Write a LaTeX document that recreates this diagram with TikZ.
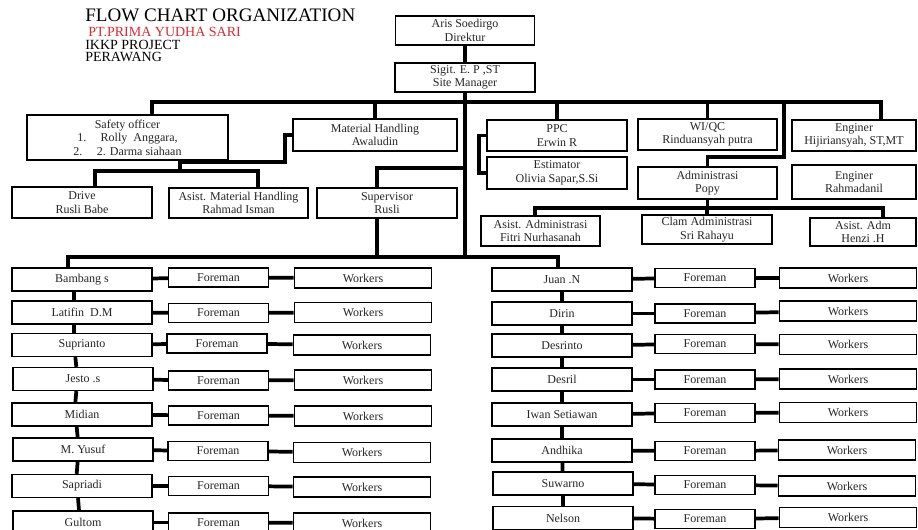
\documentclass[tikz,border=0pt]{standalone}
\usepackage{fontspec}
\setmainfont{Liberation Serif}
\definecolor{titlered}{RGB}{215,45,50}
\begin{document}
\begin{tikzpicture}[x=0.75pt,y=-0.75pt,
  box/.style={draw, line width=1pt, fill=white, inner sep=0pt, align=center, font=\fontsize{9}{10.2}\selectfont, text=black!85},
  who/.style={box, minimum width=105pt, minimum height=17.25pt},
  fore/.style={box, minimum width=75pt, minimum height=14.25pt},
  work/.style={box, minimum width=103pt, minimum height=15pt},
  link/.style={line width=2.8pt},
  heading/.style={anchor=base west, inner sep=0pt, font=\fontsize{10.5}{12}\selectfont}]
\useasboundingbox (0,0) rectangle (918,530);
\clip (0,0) rectangle (918,530);
\node[heading, font=\fontsize{14.3}{16}\selectfont] (ttl) at (85,22) {FLOW CHART ORGANIZATION};
\node[heading, text=titlered] (co) at (88,37) {PT.PRIMA YUDHA SARI};
\node[heading] (prj) at (85,50) {IKKP PROJECT};
\node[heading] (loc) at (85,62) {PERAWANG};
\node[box, minimum width=104pt, minimum height=21.75pt] (dir) at (465,30.5) {Aris Soedirgo\\Direktur};
\node[box, minimum width=105pt, minimum height=21.75pt] (sm) at (465,77.5) {Sigit. E. P ,ST\\Site Manager};
\node[box, minimum width=150.75pt, minimum height=33.75pt] (saf) at (127.5,137.5) {Safety officer\\1.\hspace{1.2em}Rolly\ \ Anggara,\\2.\hspace{1.2em}2. Darma siahaan};
\node[box, minimum width=123pt, minimum height=24pt] (mh) at (375,135) {Material Handling\\Awaludin};
\node[box, minimum width=105pt, minimum height=23.25pt] (drv) at (82,202.5) {Drive\\Rusli Babe};
\node[box, minimum width=104.25pt, minimum height=22.5pt] (amh) at (238.5,203) {Asist. Material Handling\\Rahmad Isman};
\node[box, minimum width=105pt, minimum height=22.5pt] (sup) at (387,203) {Supervisor\\Rusli};
\node[box, minimum width=105pt, minimum height=23.25pt] (ppc) at (557,135.5) {PPC\\Erwin R};
\node[box, minimum width=105pt, minimum height=24pt] (est) at (557,173) {Estimator\\Olivia Sapar,S.Si};
\node[box, minimum width=104.25pt, minimum height=23.25pt] (wqc) at (707.5,134.5) {WI/QC\\Rinduansyah putra};
\node[box, minimum width=93pt, minimum height=23.25pt] (en1) at (854,135.5) {Enginer\\Hijiriansyah, ST,MT};
\node[box, minimum width=93pt, minimum height=25.5pt] (en2) at (854,182) {Enginer\\Rahmadanil};
\node[box, minimum width=104.25pt, minimum height=24pt] (adm) at (707.5,183) {Administrasi\\Popy};
\node[box, minimum width=89.25pt, minimum height=22.5pt] (aa) at (540.5,231) {Asist. Administrasi\\Fitri Nurhasanah};
\node[box, minimum width=97.5pt, minimum height=21.75pt] (ca) at (707,229.5) {Clam Administrasi\\Sri Rahayu};
\node[box, minimum width=79.5pt, minimum height=21pt] (aad) at (863,232) {Asist. Adm\\Henzi .H};
\node[who] (l1) at (82,279.5) {Bambang s};
\node[who] (l2) at (82,312.5) {Latifin\ \ D.M};
\node[who] (l3) at (82,345) {Suprianto};
\node[who] (l4) at (83,379) {Jesto .s};
\node[who] (l5) at (82,414.5) {Midian};
\node[who] (l6) at (83,449.5) {M. Yusuf};
\node[who] (l7) at (82,486) {Sapriadi};
\node[who] (l8) at (83,522.5) {Gultom};
\node[fore] (lf1) at (218.5,277.5) {Foreman};
\node[fore] (lf2) at (218.5,313) {Foreman};
\node[fore] (lf3) at (217,343.5) {Foreman};
\node[fore] (lf4) at (218.5,380.5) {Foreman};
\node[fore] (lf5) at (218.5,415.5) {Foreman};
\node[fore] (lf6) at (218,451) {Foreman};
\node[fore] (lf7) at (218.5,486) {Foreman};
\node[fore] (lf8) at (218.5,522.5) {Foreman};
\node[work] (lw1) at (363,278) {Workers};
\node[work] (lw2) at (363,312.5) {Workers};
\node[work] (lw3) at (362,345) {Workers};
\node[work] (lw4) at (363,380) {Workers};
\node[work] (lw5) at (363,416) {Workers};
\node[work] (lw6) at (362,452.5) {Workers};
\node[work] (lw7) at (362,487) {Workers};
\node[work] (lw8) at (362,523) {Workers};
\node[who] (r1) at (562,279.5) {Juan .N};
\node[who] (r2) at (562,313.5) {Dirin};
\node[who] (r3) at (562,345.5) {Desrinto};
\node[who] (r4) at (562,379.5) {Desril};
\node[who] (r5) at (562,414.5) {Iwan Setiawan};
\node[who] (r6) at (562,450.5) {Andhika};
\node[who] (r7) at (563,483.5) {Suwarno};
\node[who] (r8) at (563,518) {Nelson};
\node[fore] (rf1) at (705,278) {Foreman};
\node[fore] (rf2) at (705,313.5) {Foreman};
\node[fore] (rf3) at (705,344) {Foreman};
\node[fore] (rf4) at (705,379.5) {Foreman};
\node[fore] (rf5) at (705,413) {Foreman};
\node[fore] (rf6) at (705,451) {Foreman};
\node[fore] (rf7) at (705,485) {Foreman};
\node[fore] (rf8) at (705,519) {Foreman};
\node[work] (rw1) at (848,278) {Workers};
\node[work] (rw2) at (848,311) {Workers};
\node[work] (rw3) at (848,344.5) {Workers};
\node[work] (rw4) at (848,379) {Workers};
\node[work] (rw5) at (848,412.5) {Workers};
\node[work] (rw6) at (847,450) {Workers};
\node[work] (rw7) at (847,486) {Workers};
\node[work] (rw8) at (848,517.5) {Workers};
\coordinate (b1) at (152,102);
\coordinate (b6) at (784,102);
\coordinate (k6) at (784,157);
\coordinate (b7) at (881,102);
\coordinate (s1) at (180,171);
\coordinate (s2) at (95,171);
\coordinate (s3) at (258,171);
\coordinate (m1) at (285,162);
\coordinate (v1) at (377,168);
\coordinate (e1) at (479,173);
\coordinate (a1) at (535,208);
\coordinate (a3) at (883,208);
\coordinate (wl) at (68,257);
\coordinate (wb) at (465,257);
\coordinate (wr) at (558,257);
\draw[link] (dir) -- (sm);
\draw[link] (sm.south) -- (wb);
\draw[link] (b1 |- saf.north) -- (b1) -- (b7) -- (b7 |- en1.north);
\draw[link] (mh.north |- b1) -- (mh.north);
\draw[link] (ppc.north |- b1) -- (ppc.north);
\draw[link] (wqc.north |- b1) -- (wqc.north);
\draw[link] (b6) -- (k6) -| (adm.north);
\draw[link] (saf.south -| s1) -- (s1);
\draw[link] (s2 |- drv.north) -- (s2) -- (s3) -- (s3 |- amh.north);
\draw[link] (mh.west) -| (m1) -- (m1 -| s1);
\draw[link] (sm.south |- v1) -- (v1) -- (v1 |- sup.north);
\draw[link] (sup.south -| v1) -- (v1 |- wl);
\draw[link] (ppc.west) -| (e1) -- (est.west);
\draw[link] (adm.south) -- (adm.south |- a1);
\draw[link] (a1 |- aa.north) -- (a1) -- (a3) -- (a3 |- aad.north);
\draw[link] (ca.north |- a1) -- (ca.north);
\draw[link] (wl |- l1.north) -- (wl) -- (wr) -- (wr |- r1.north);
\draw[link] ([xshift=-6pt]l1.south) -- ([xshift=-6pt]l2.north);
\draw[link] ([xshift=-6pt]l2.south) -- ([xshift=-6pt]l3.north);
\draw[link] ([xshift=-5pt]l3.south) -- ([xshift=-5pt]l4.north);
\draw[link] ([xshift=-5pt]l4.south) -- ([xshift=-5pt]l5.north);
\draw[link] ([xshift=-4pt]l5.south) -- ([xshift=-4pt]l6.north);
\draw[link] ([xshift=-4pt]l6.south) -- ([xshift=-4pt]l7.north);
\draw[link] ([xshift=-3pt]l7.south) -- ([xshift=-3pt]l8.north);
\draw[link] (r1) -- (r2);
\draw[link] (r2) -- (r3);
\draw[link] (r3) -- (r4);
\draw[link] (r4) -- (r5);
\draw[link] (r5) -- (r6);
\draw[link] (r6) -- (r7);
\draw[link] (r7) -- (r8);
\draw[link] (l1) -- (lf1);
\draw[link] (lf1) -- (lw1);
\draw[link] (l2) -- (lf2);
\draw[link] (lf2) -- (lw2);
\draw[link] (l3) -- (lf3);
\draw[link] (lf3) -- (lw3);
\draw[link] (l4) -- (lf4);
\draw[link] (lf4) -- (lw4);
\draw[link] (l5) -- (lf5);
\draw[link] (lf5) -- (lw5);
\draw[link] (l6) -- (lf6);
\draw[link] (lf6) -- (lw6);
\draw[link] (l7) -- (lf7);
\draw[link] (lf7) -- (lw7);
\draw[link] (l8) -- (lf8);
\draw[link] (lf8) -- (lw8);
\draw[link] (r1) -- (rf1);
\draw[link] (rf1) -- (rw1);
\draw[link] (r2) -- (rf2);
\draw[link] (rf2) -- (rw2);
\draw[link] (r3) -- (rf3);
\draw[link] (rf3) -- (rw3);
\draw[link] (r4) -- (rf4);
\draw[link] (rf4) -- (rw4);
\draw[link] (r5) -- (rf5);
\draw[link] (rf5) -- (rw5);
\draw[link] (r6) -- (rf6);
\draw[link] (rf6) -- (rw6);
\draw[link] (r7) -- (rf7);
\draw[link] (rf7) -- (rw7);
\draw[link] (r8) -- (rf8);
\draw[link] (rf8) -- (rw8);
\end{tikzpicture}
\end{document}
